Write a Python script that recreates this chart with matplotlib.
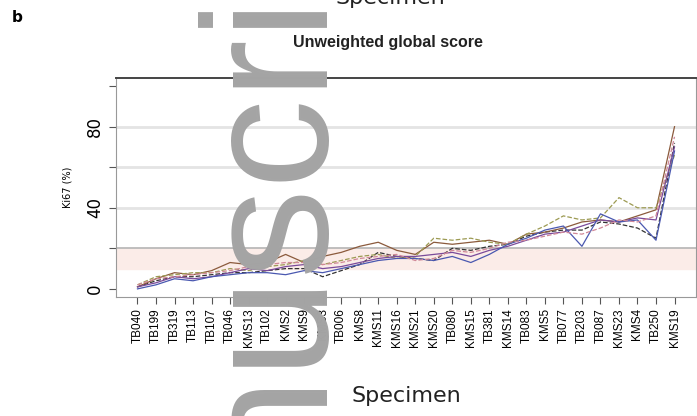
import numpy as np
import matplotlib
matplotlib.use('Agg')
import matplotlib.pyplot as plt

# specimens ordered by mean Ki67
specimens = ['TB040', 'TB199', 'TB319', 'TB113', 'TB107', 'TB046', 'KMS13', 'TB102',
             'KMS2', 'KMS9', 'KMS3', 'TB006', 'KMS8', 'KMS11', 'KMS16', 'KMS21',
             'KMS20', 'TB080', 'KMS15', 'TB381', 'KMS14', 'TB083', 'KMS5', 'TB077',
             'TB203', 'TB087', 'KMS23', 'KMS4', 'TB250', 'KMS19']

# Ki67 (%) per reader
reader_1 = [1, 4, 6, 6, 7, 8, 8, 9, 10, 10, 6, 9, 12, 18, 16, 15, 14, 20, 19, 21, 22, 26, 28, 29, 29, 33, 32, 30, 25, 72]
reader_2 = [1, 5, 8, 7, 9, 13, 12, 13, 17, 13, 16, 18, 21, 23, 19, 17, 23, 22, 23, 24, 22, 27, 28, 30, 33, 34, 33, 36, 39, 80]
reader_3 = [2, 6, 7, 8, 8, 10, 9, 11, 12, 14, 12, 14, 16, 17, 15, 16, 25, 24, 25, 23, 22, 27, 31, 36, 34, 35, 45, 40, 40, 66]
reader_4 = [1, 3, 6, 5, 6, 8, 10, 9, 11, 12, 10, 11, 13, 15, 16, 16, 17, 18, 16, 19, 21, 24, 27, 28, 31, 34, 33, 35, 34, 70]
reader_5 = [0, 2, 5, 4, 6, 7, 8, 8, 7, 9, 8, 10, 12, 14, 15, 15, 14, 16, 13, 17, 22, 25, 29, 31, 21, 37, 33, 34, 24, 68]
reader_6 = [2, 5, 6, 7, 8, 9, 11, 12, 13, 13, 12, 13, 15, 16, 17, 14, 15, 19, 18, 20, 23, 24, 26, 28, 27, 30, 34, 33, 36, 75]

readers = [reader_1, reader_2, reader_3, reader_4, reader_5, reader_6]
colors = ['#333333', '#8b5a3c', '#9c9a52', '#7a4a9a', '#4a58b0', '#d08898']
styles = ['--', '-', '--', '-', '-', '--']

fig = plt.figure(figsize=(6.97, 4.16), dpi=100)
ax = fig.add_axes([116/697, 1 - 297/416, 580/697, 219/416])

x = np.arange(1, len(specimens) + 1)

ax.axhspan(10, 20, color='#fbece8', zorder=0)
for g in [40, 60, 80]:
    ax.axhline(g, color='#e4e4e4', lw=2, zorder=1)
ax.axhline(20, color='#b5b5b5', lw=1.2, zorder=1)

for vals, c, ls in zip(readers, colors, styles):
    ax.plot(x, vals, color=c, ls=ls, lw=0.9, zorder=3)

ax.set_xlim(1 - 0.04 * 29, 30 + 0.04 * 29)
ax.set_ylim(-4, 104)
ax.set_yticks([0, 20, 40, 60, 80, 100])
ax.set_yticklabels(['0', '', '40', '', '80', ''], rotation=90, va='center', fontsize=12)
ax.set_xticks(x)
ax.set_xticklabels(specimens, rotation=90, fontsize=8.5, fontfamily='Liberation Sans')
ax.tick_params(axis='both', length=5, width=0.8, color='#555555')
ax.tick_params(axis='x', pad=3)
for s in ['left', 'bottom', 'right']:
    ax.spines[s].set_color('#999999')
    ax.spines[s].set_linewidth(0.8)
ax.spines['top'].set_color('#444444')
ax.spines['top'].set_linewidth(1.4)

ax.set_ylabel('Ki67 (%)', fontsize=7, labelpad=10)
ax.set_xlabel('Specimen', fontsize=16, color='#222222', labelpad=28)

fig.text(12/697, 1 - 18/416, 'b', fontsize=11, fontweight='bold', ha='left', va='center')
fig.text(388/697, 1 - 42/416, 'Unweighted global score', fontsize=11.5, fontweight='bold',
         ha='center', va='center', fontfamily='Liberation Sans', color='#222222')
# x label of the panel above, cut by the top edge
fig.text(390/697, 1 + 2/416, 'Specimen', fontsize=16, color='#222222', ha='center', va='center')

# vertical watermark
fig.text(313/697, 1 - 711/416, 'Manuscript', rotation=90, rotation_mode='anchor',
         ha='left', va='baseline', fontsize=129, fontfamily='Liberation Sans',
         color='#a4a4a4', zorder=10)

fig.savefig('out.png', dpi=100)
